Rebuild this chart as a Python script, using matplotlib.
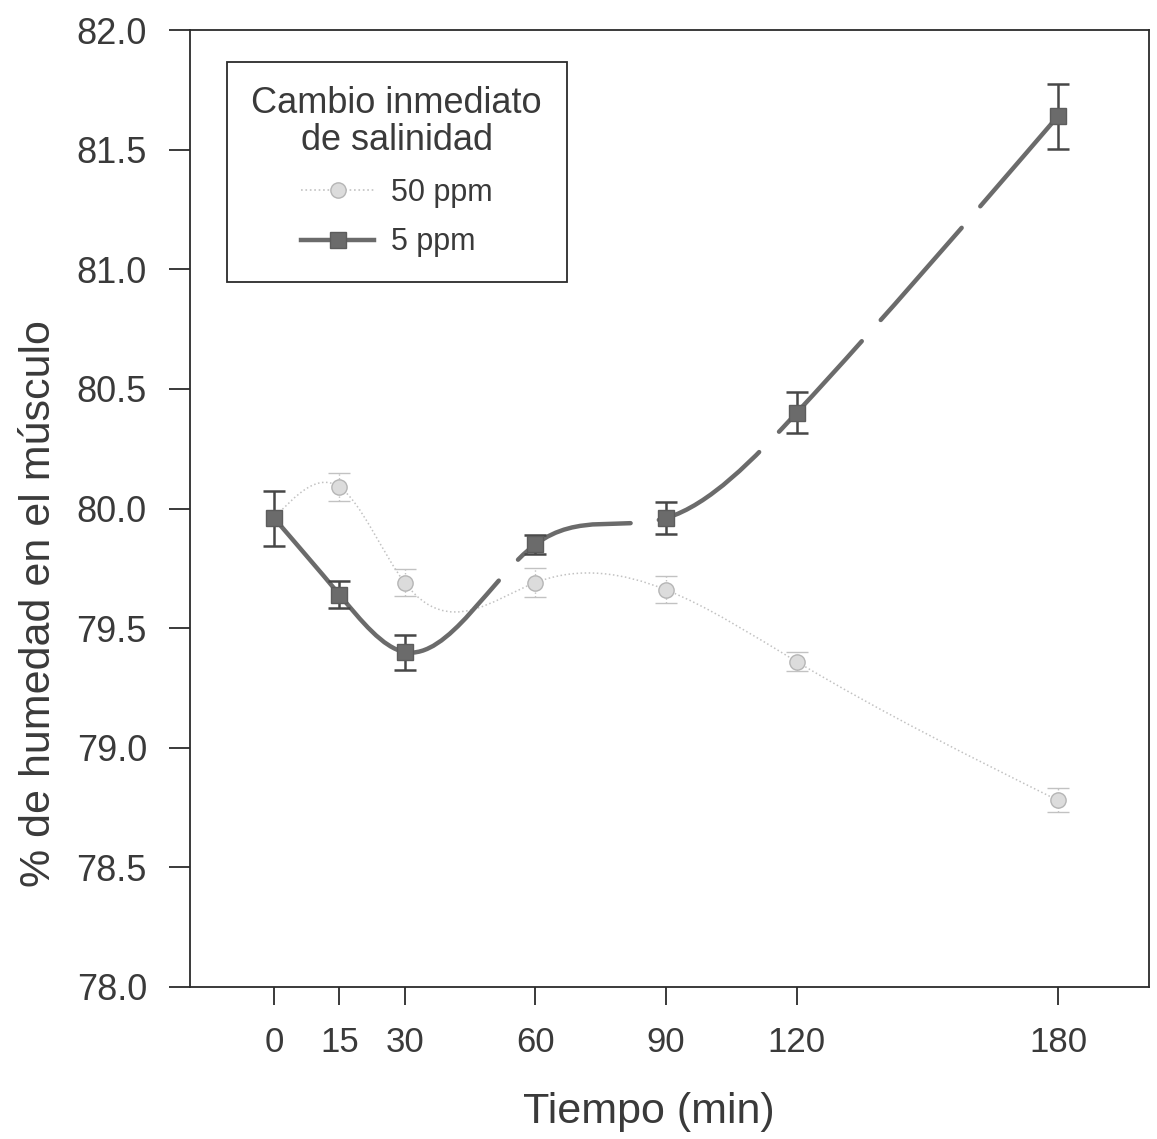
import numpy as np
import matplotlib
matplotlib.use("Agg")
import matplotlib.pyplot as plt
from matplotlib.path import Path
from matplotlib.patches import PathPatch
from matplotlib.lines import Line2D

# datos
tiempo = [0, 15, 30, 60, 90, 120, 180]
hum_50 = [79.96, 80.09, 79.69, 79.69, 79.66, 79.36, 78.78]
err_50 = [0.0, 0.06, 0.057, 0.06, 0.056, 0.04, 0.05]
hum_5 = [79.96, 79.64, 79.40, 79.85, 79.96, 80.40, 81.64]
err_5 = [0.115, 0.055, 0.073, 0.04, 0.067, 0.086, 0.136]
xticks = [0, 15, 30, 60, 90, 120, 180]
yticks = [78.0, 78.5, 79.0, 79.5, 80.0, 80.5, 81.0, 81.5, 82.0]

INK = "#2b2b2b"; TXT = "#3a3a3a"
OSC = "#6b6b6b"; CLA = "#c2c2c2"

plt.rcParams["font.family"] = ["Liberation Sans", "DejaVu Sans"]


def spline_path(x, y, i0, i1):
    """Spline cubica natural como curvas Bezier (segmentos i0..i1-1)."""
    x = np.asarray(x, float); y = np.asarray(y, float)
    n = len(x); h = np.diff(x)
    A = np.zeros((n, n)); r = np.zeros(n)
    A[0, 0] = A[-1, -1] = 1
    for i in range(1, n - 1):
        A[i, i - 1] = h[i - 1]; A[i, i] = 2 * (h[i - 1] + h[i]); A[i, i + 1] = h[i]
        r[i] = 6 * ((y[i + 1] - y[i]) / h[i] - (y[i] - y[i - 1]) / h[i - 1])
    M = np.linalg.solve(A, r)
    d = np.empty(n)
    d[:-1] = np.diff(y) / h - h * (2 * M[:-1] + M[1:]) / 6
    d[-1] = (y[-1] - y[-2]) / h[-1] + h[-1] * (M[-2] + 2 * M[-1]) / 6
    verts = [(x[i0], y[i0])]; codes = [Path.MOVETO]
    for i in range(i0, i1):
        verts += [(x[i] + h[i] / 3, y[i] + d[i] * h[i] / 3),
                  (x[i + 1] - h[i] / 3, y[i + 1] - d[i + 1] * h[i] / 3),
                  (x[i + 1], y[i + 1])]
        codes += [Path.CURVE4] * 3
    return Path(verts, codes)


fig = plt.figure(figsize=(11.57, 11.39), dpi=100)
ax = fig.add_axes([190 / 1157, 1 - 987 / 1139, 959 / 1157, 957 / 1139])

# 50 ppm (gris claro, punteado)
ax.add_patch(PathPatch(spline_path(tiempo, hum_50, 0, len(tiempo) - 1), fill=False,
                       ec=CLA, lw=1.1, ls=":", zorder=2))
eb = ax.errorbar(tiempo[1:], hum_50[1:], yerr=err_50[1:], fmt="none", ecolor=CLA,
                 elinewidth=1.0, capsize=8, capthick=1.0, zorder=3)
eb[2][0].set_linestyle(":")
ax.plot(tiempo, hum_50, ls="none", marker="o", ms=11, mfc="#dcdcdc", mec="#b5b5b5",
        mew=1.0, zorder=3)

# 5 ppm (gris oscuro; continuo hasta 30 min y luego a trazos)
ax.add_patch(PathPatch(spline_path(tiempo, hum_5, 0, 2), fill=False,
                       ec=OSC, lw=3.2, zorder=4, capstyle="round"))
ax.add_patch(PathPatch(spline_path(tiempo, hum_5, 2, len(tiempo) - 1), fill=False,
                       ec=OSC, lw=3.2, ls=(0, (27.6, 6.4)), zorder=4, capstyle="round"))
ax.errorbar(tiempo, hum_5, yerr=err_5, fmt="none", ecolor="#474747",
            elinewidth=1.8, capsize=8, capthick=1.8, zorder=5)
ax.plot(tiempo, hum_5, ls="none", marker="s", ms=12, mfc=OSC, mec="#5c5c5c",
        mew=1.0, zorder=6)

ax.set_xlim(-19.3, 200.9)
ax.set_ylim(78, 82)
ax.set_xticks(xticks, [str(t) for t in xticks])
ax.set_yticks(yticks, [f"{v:.1f}" for v in yticks])
ax.tick_params(axis="x", direction="out", length=13, width=1.3, pad=15,
               labelsize=25, colors=INK, labelcolor=TXT)
ax.tick_params(axis="y", direction="out", length=15, width=1.3, pad=16,
               labelsize=26, colors=INK, labelcolor=TXT)
for s in ax.spines.values():
    s.set_color(INK); s.set_linewidth(1.3)

ax.set_xlabel("Tiempo (min)", fontsize=31, color=TXT)
ax.xaxis.set_label_coords(0.478, -0.11)
ax.set_ylabel("% de humedad en el músculo", fontsize=31, color=TXT)
ax.yaxis.set_label_coords(-0.137, 0.401)

handles = [Line2D([], [], color=CLA, ls=":", lw=1.2, marker="o", ms=11,
                  mfc="#dcdcdc", mec="#b5b5b5"),
           Line2D([], [], color=OSC, lw=3.2, marker="s", ms=11, mfc=OSC, mec="#5c5c5c")]
leg = ax.legend(handles, ["50 ppm", "5 ppm"], title="Cambio inmediato\nde salinidad",
                loc="upper left", bbox_to_anchor=(0.0386, 0.9666), borderaxespad=0,
                fontsize=22, title_fontsize=26, handlelength=2.4, handletextpad=0.55,
                labelspacing=0.65, borderpad=0.8, fancybox=False, framealpha=1,
                edgecolor=INK)
leg.get_frame().set_linewidth(1.3)
leg.get_title().set_linespacing(1.05)
leg.get_title().set_multialignment("center")
leg.get_title().set_color(TXT)
for t in leg.get_texts():
    t.set_color(TXT)

fig.savefig("out.png", dpi=100)
